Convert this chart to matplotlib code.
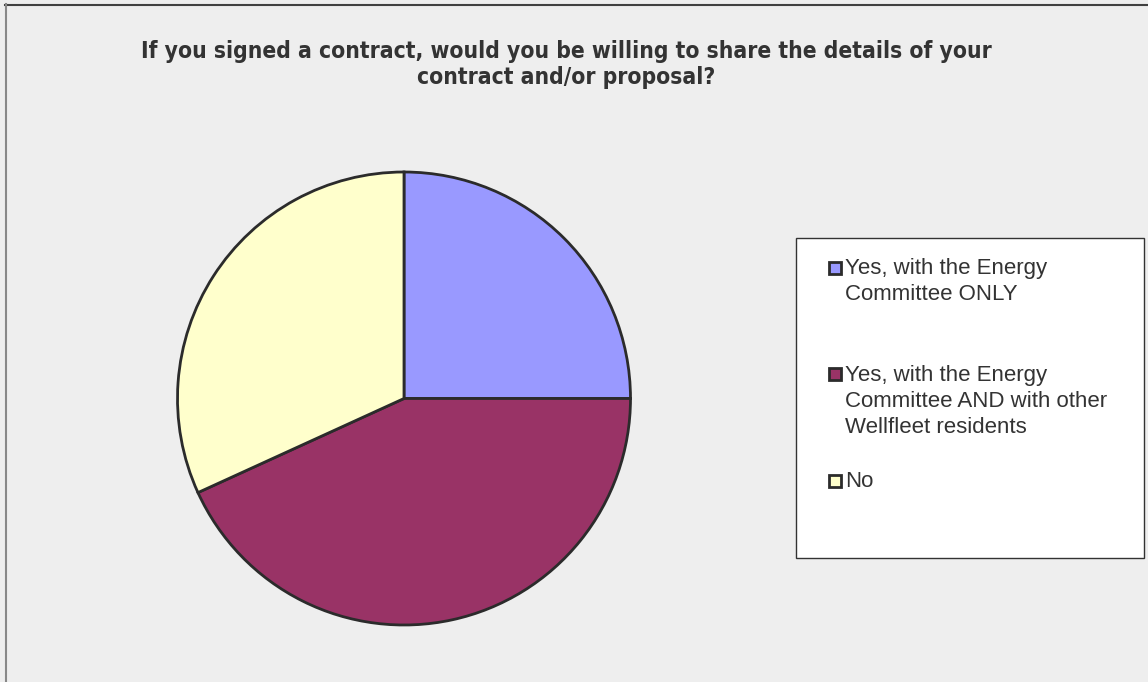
import matplotlib.pyplot as plt
from matplotlib.patches import Rectangle
from matplotlib.lines import Line2D

# survey answers
labels = [
    ["Yes, with the Energy", "Committee ONLY"],
    ["Yes, with the Energy", "Committee AND with other", "Wellfleet residents"],
    ["No"],
]
counts = [11, 19, 14]
colors = ["#9999FF", "#993366", "#FFFFCC"]
title = ("If you signed a contract, would you be willing to share the details of your\n"
         "contract and/or proposal?")

W, H = 1148, 682
fig = plt.figure(figsize=(W / 100, H / 100), dpi=100, facecolor="#EEEEEE")


def fx(px):
    return px / W


def fy(py):
    return 1 - py / H


# chart frame (top and left edges visible)
fig.add_artist(Line2D([fx(5), fx(W)], [fy(4.5), fy(4.5)], color="#404040", lw=1.5))
fig.add_artist(Line2D([fx(5.5), fx(5.5)], [fy(4), fy(H)], color="#888888", lw=1.5))

# pie
cx, cy, r = 404, 398.5, 226.5
ax = fig.add_axes([fx(cx - r), fy(cy + r), (2 * r) / W, (2 * r) / H])
ax.pie(counts, colors=colors, startangle=90, counterclock=False,
       wedgeprops=dict(edgecolor="#2b2b2b", linewidth=2))
ax.set_xlim(-1, 1)
ax.set_ylim(-1, 1)
ax.set_facecolor("none")

# title
for i, line in enumerate(title.split("\n")):
    fig.text(fx(566), fy(58 + 26 * i), line, ha="center", va="baseline",
             fontsize=16.4, family="DejaVu Sans", stretch="condensed",
             weight="bold", color="#333333")

# legend box
fig.add_artist(Rectangle((fx(796), fy(558)), fx(1144 - 796), (558 - 238) / H,
                         transform=fig.transFigure, facecolor="white",
                         edgecolor="#333333", lw=1))
first_baselines = [274, 381, 487]
for lines, col, yb in zip(labels, colors, first_baselines):
    fig.add_artist(Rectangle((fx(828.5), fy(yb - 0.5)), 12 / W, 12 / H,
                             transform=fig.transFigure, facecolor=col,
                             edgecolor="#2b2b2b", lw=2))
    for i, line in enumerate(lines):
        fig.text(fx(845), fy(yb + 26 * i), line, ha="left", va="baseline",
                 fontsize=16, family="Liberation Sans", color="#333333")

fig.savefig("out.png", dpi=100, facecolor=fig.get_facecolor())
